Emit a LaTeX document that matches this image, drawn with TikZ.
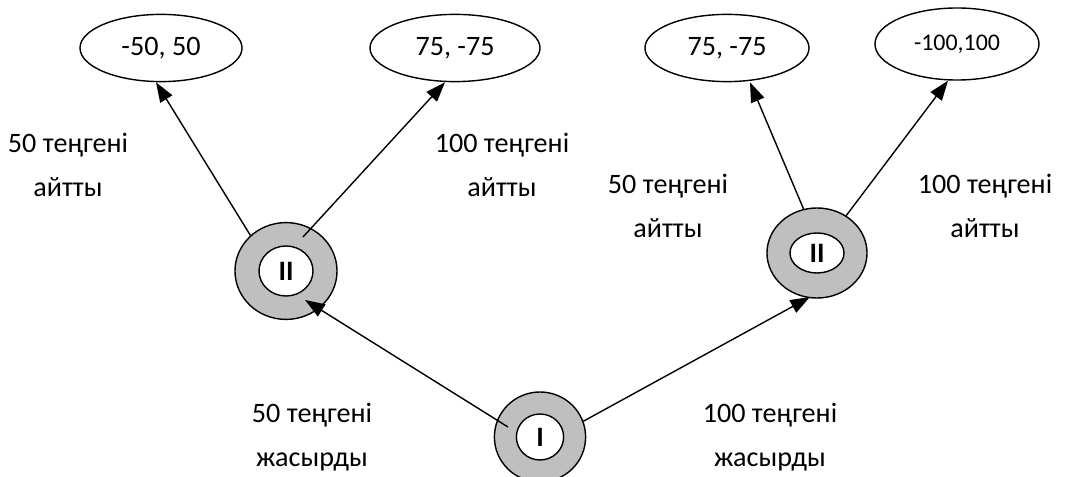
\documentclass[tikz,border=0pt]{standalone}
\usepackage{fontspec}
\setmainfont{Carlito}
\usetikzlibrary{
  arrows.meta,
  shapes.geometric
}

\tikzset{
  payoff/.style={draw, ellipse, line width=1pt, inner sep=0pt,
    font=\fontsize{20}{24}\selectfont},
  ring/.style={draw, ellipse, fill=gray!50, line width=1pt, inner sep=0pt},
  core/.style={draw, ellipse, fill=white, line width=1pt, inner sep=0pt,
    font=\bfseries\fontsize{20}{24}\selectfont},
  movetext/.style={align=center, font=\fontsize{20}{31}\selectfont}
}

\begin{document}
\begin{tikzpicture}[x=0.025cm, y=-0.025cm, >={Triangle[length=14pt, width=10pt]}, line width=1pt]

  \useasboundingbox (0,0) rectangle (1071,477);

  %% ===== payoffs =====
  \node[payoff, minimum width=4.05cm, minimum height=1.68cm] (pa) at (161,48)  {-50, 50};
  \node[payoff, minimum width=4.25cm, minimum height=1.68cm] (pb) at (455,48)  {75, -75};
  \node[payoff, minimum width=4.1cm,  minimum height=1.68cm] (pc) at (727,48)  {75, -75};
  \node[payoff, minimum width=4.1cm,  minimum height=1.8cm,
        font=\fontsize{17}{20}\selectfont]                     (pd) at (957,44)  {-100,100};

  %% ===== player II nodes =====
  \node[ring, minimum width=2.55cm, minimum height=2.42cm] (twoL) at (286,271) {};
  \node[core, minimum width=1.35cm, minimum height=1.25cm] at (twoL) {II};

  \node[ring, minimum width=2.5cm, minimum height=2.25cm] (twoR) at (817,253) {};
  \node[core, minimum width=1.35cm, minimum height=1.0cm] at (twoR) {II};

  %% ===== player I node =====
  \node[ring, minimum width=2.28cm, minimum height=2.25cm] (one) at (540,437) {};
  \node[core, minimum width=1.18cm, minimum height=1.15cm] at (one) {I};

  %% ===== moves of II =====
  \draw[->] (twoL.135) -- ([xshift=-5*0.025cm]pa.south);
  \draw[->] ([shift={(17,-34)}]twoL.center) -- ([xshift=-10*0.025cm]pb.south);
  \draw[->] (twoR.107) -- ([xshift=23*0.025cm]pc.south);
  \draw[->] (twoR.52) -- ([xshift=-9*0.025cm]pd.south);

  %% ===== moves of I =====
  \draw[->] ([shift={(-32,-10)}]one.center) -- ([shift={(19,29)}]twoL.center);
  \draw[->] (one.20) -- ([shift={(-7,44)}]twoR.center);

  %% ===== labels =====
  \node[movetext] (lab1) at (68,165)  {50 теңгені\\айтты};
  \node[movetext] (lab2) at (502,165) {100 теңгені\\айтты};
  \node[movetext] (lab3) at (668,206) {50 теңгені\\айтты};
  \node[movetext] (lab4) at (985,206) {100 теңгені\\айтты};
  \node[movetext] (lab5) at (312,437) {50 теңгені\\жасырды};
  \node[movetext] (lab6) at (770,437) {100 теңгені\\жасырды};

\end{tikzpicture}
\end{document}
